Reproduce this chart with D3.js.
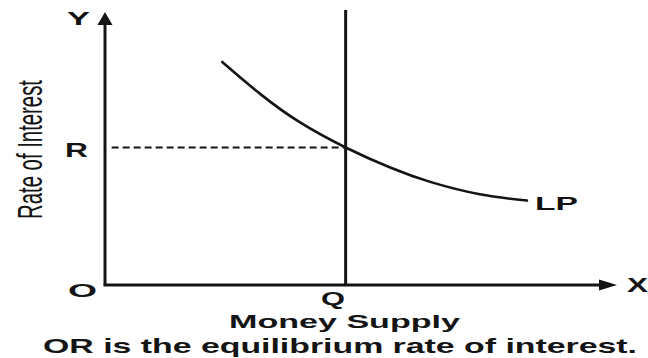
<!DOCTYPE html>
<html>
<head>
<meta charset="utf-8">
<script src="https://cdn.jsdelivr.net/npm/d3@7"></script>
<style>
  html, body { margin: 0; padding: 0; background: #fff; }
  svg { display: block; }
</style>
</head>
<body>
<svg id="chart" width="648" height="358"></svg>
<script>
// Liquidity preference (LP) curve: money supply vs rate of interest
const lpMoney    = [22.9, 30.3, 38.1, 47.0, 55.7, 63.5, 73.2, 82.4];
const lpInterest = [81.1, 69.5, 59.1, 50.0, 42.7, 37.5, 33.0, 30.7];

// Equilibrium: fixed money supply Q and rate R
const supplyQ = 47;
const rateR = 50;

const axisLabels = { x: "X", y: "Y", origin: "O", q: "Q", r: "R", curve: "LP" };
const xTitle = "Money Supply";
const yTitle = "Rate of Interest";
const caption = "OR is the equilibrium rate of interest.";

const svg = d3.select("#chart");
const ink = "#141414";

const x = d3.scaleLinear().domain([0, 100]).range([105, 617]);
const y = d3.scaleLinear().domain([0, 100]).range([285, 10]);

// axes
svg.append("line")
  .attr("x1", x(0)).attr("y1", y(0)).attr("x2", x(0)).attr("y2", y(96))
  .attr("stroke", ink).attr("stroke-width", 3);
svg.append("line")
  .attr("x1", x(0) - 1.5).attr("y1", y(0)).attr("x2", x(97)).attr("y2", y(0))
  .attr("stroke", ink).attr("stroke-width", 3);

// arrowheads
const tipY = [x(0), y(99.3)];
svg.append("path")
  .attr("d", `M${tipY[0]},${tipY[1]} L${tipY[0] - 7.5},${tipY[1] + 13} L${tipY[0] + 7.5},${tipY[1] + 13} Z`)
  .attr("fill", ink);
const tipX = [x(100), y(0)];
svg.append("path")
  .attr("d", `M${tipX[0]},${tipX[1]} L${tipX[0] - 18},${tipX[1] - 5.5} L${tipX[0] - 18},${tipX[1] + 5.5} Z`)
  .attr("fill", ink);

// money supply line at Q
svg.append("line")
  .attr("x1", x(supplyQ)).attr("y1", y(100)).attr("x2", x(supplyQ)).attr("y2", y(0))
  .attr("stroke", ink).attr("stroke-width", 3);

// dashed guide at R
svg.append("line")
  .attr("x1", x(1.3)).attr("y1", y(rateR)).attr("x2", x(supplyQ)).attr("y2", y(rateR))
  .attr("stroke", ink).attr("stroke-width", 2)
  .attr("stroke-dasharray", "7,4");

// LP curve
const pts = lpMoney.map((m, i) => [m, lpInterest[i]]);
const line = d3.line()
  .x(d => x(d[0])).y(d => y(d[1]))
  .curve(d3.curveNatural);
svg.append("path")
  .datum(pts)
  .attr("d", line)
  .attr("fill", "none")
  .attr("stroke", ink)
  .attr("stroke-width", 2.6)
  .attr("stroke-linecap", "round");

// text helper: left x, baseline y, size, stretched length
function label(str, lx, by, size, len, weight) {
  return svg.append("text")
    .attr("x", lx).attr("y", by)
    .attr("font-family", "'Liberation Sans', Arial, sans-serif")
    .attr("font-size", size)
    .attr("font-weight", weight || "bold")
    .attr("fill", ink)
    .attr("textLength", len)
    .attr("lengthAdjust", "spacingAndGlyphs")
    .text(str);
}

label(axisLabels.y, 67, 25, 18, 23);
label(axisLabels.r, 65, 157, 20, 23);
label(axisLabels.origin, 68, 297, 19, 29);
label(axisLabels.x, 627, 292, 20, 21);
label(axisLabels.q, 321, 305, 18, 24);
label(axisLabels.curve, 535, 210, 18, 43);
label(xTitle, 229, 328, 19, 231);
label(caption, 43, 353, 21, 594);

// rotated y title, drawn narrow and tall
svg.append("text")
  .attr("transform", `translate(42,219) rotate(-90) scale(1,2)`)
  .attr("font-family", "'Liberation Sans', Arial, sans-serif")
  .attr("font-size", 17.5)
  .attr("fill", ink)
  .attr("textLength", 139)
  .attr("lengthAdjust", "spacingAndGlyphs")
  .text(yTitle);
</script>
</body>
</html>
